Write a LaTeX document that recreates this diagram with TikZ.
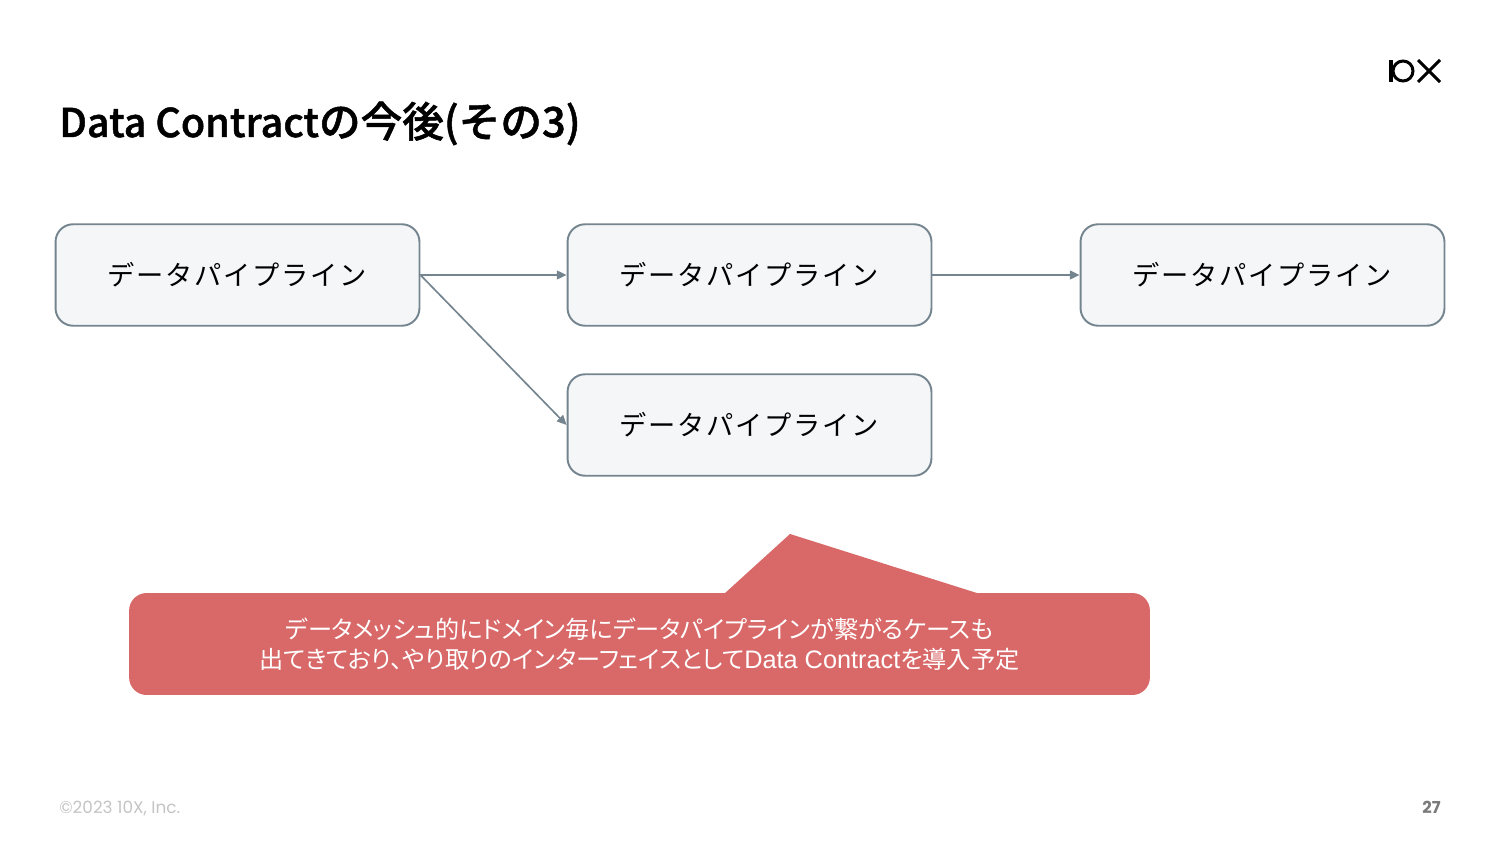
\documentclass[tikz,border=0pt]{standalone}
\usepackage{fontspec}
\setmainfont[RawFeature=+palt]{Noto Sans CJK JP}
\newfontfamily\titlefont[FakeBold=1.2]{Noto Sans CJK JP Medium}
\newfontfamily\pipefont[LetterSpace=6.6]{Noto Sans CJK JP}
\newfontfamily\latinfont{Liberation Sans}
\newfontfamily\footfont{Poppins}
\definecolor{pipeedge}{HTML}{75858F}
\definecolor{pipefill}{HTML}{F4F6F8}
\definecolor{calloutred}{HTML}{D96868}
\definecolor{footgray}{HTML}{C4C4C4}
\definecolor{pagegray}{HTML}{7A7A7A}
\tikzset{
  pipe/.style={draw=pipeedge,fill=pipefill,line width=1.1pt,rounded corners=10pt,
    minimum width=7.28cm,minimum height=2.03cm,font=\pipefont\fontsize{15.5}{18}\selectfont},
  flow/.style={draw=pipeedge,line width=0.95pt,-{Triangle[length=5.5pt,width=5pt]}},
  callout/.style={fill=calloutred,text=white,rounded corners=10pt,align=center,
    minimum width=20.42cm,minimum height=2.04cm,font=\fontsize{13.75}{17}\selectfont},
}
\usetikzlibrary{arrows.meta}
\begin{document}
\begin{tikzpicture}[x=0.02cm,y=-0.02cm]
  \useasboundingbox (0,0) rectangle (1500,844);
  \node[anchor=base west,inner sep=0pt,font=\titlefont\fontsize{23.7}{26}\selectfont] (title) at (59,137)
    {{\fontsize{22.5}{26}\selectfont Data Contract}の今後(その3)};
  % boxes
  \node[pipe] (src) at (237.5,275) {データパイプライン};
  \node[pipe] (mid) at (749.5,275) {データパイプライン};
  \node[pipe] (end) at (1262.5,275) {データパイプライン};
  \node[pipe] (low) at (749.5,425) {データパイプライン};
  \draw[flow] (src.east) -- (mid.west);
  \draw[flow] (mid.east) -- (end.west);
  \draw[flow] (src.east) -- (low.west);
  % callout with its tail
  \fill[calloutred] (724,594) -- (790,534) -- (980,594) -- cycle;
  \node[callout] (note) at (639.5,644) {データメッシュ的にドメイン毎にデータパイプラインが繋がるケースも\\
    出てきており、やり取りのインターフェイスとして{\latinfont\fontsize{14.4}{17}\selectfont Data Contract}を導入予定};
  % logo
  \fill (1389,60) rectangle (1392.5,82);
  \draw[line width=1.7pt] (1403,71) circle (10);
  \draw[line width=1.7pt] (1418,60) -- (1440,82) (1440,60) -- (1418,82);
  % footer
  \node[anchor=base west,inner sep=0pt,text=footgray,font=\footfont\fontsize{9.6}{12}\selectfont] (copy) at (59,813) {©2023 10X, Inc.};
  \node[anchor=base east,inner sep=0pt,text=pagegray,font=\footfont\bfseries\fontsize{9.4}{12}\selectfont] (page) at (1441,813) {27};
\end{tikzpicture}
\end{document}
